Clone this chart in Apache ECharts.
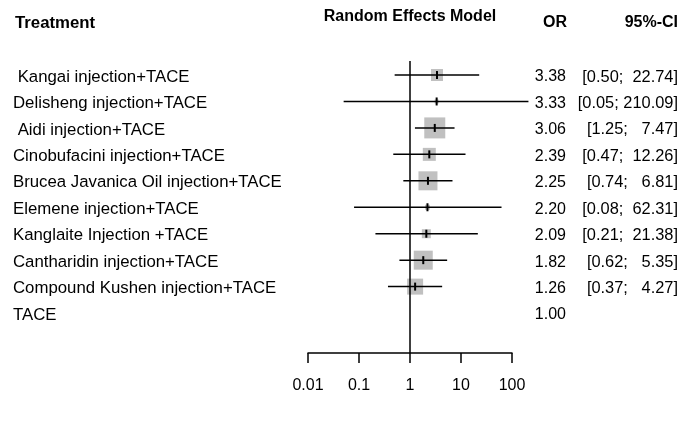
<!DOCTYPE html>
<html>
<head>
<meta charset="utf-8">
<script src="https://cdn.jsdelivr.net/npm/echarts@6/dist/echarts.min.js"></script>
<style>
  html, body { margin: 0; padding: 0; background: #fff; }
  #chart { width: 700px; height: 427px; }
</style>
</head>
<body>
<div id="chart"></div>
<script>
// ---- data ----
const treatments = [
  ' Kangai injection+TACE',
  'Delisheng injection+TACE',
  ' Aidi injection+TACE',
  'Cinobufacini injection+TACE',
  'Brucea Javanica Oil injection+TACE',
  'Elemene injection+TACE',
  'Kanglaite Injection +TACE',
  'Cantharidin injection+TACE',
  'Compound Kushen injection+TACE',
  'TACE'
];
const orValues = [3.38, 3.33, 3.06, 2.39, 2.25, 2.20, 2.09, 1.82, 1.26, 1.00];
const ciLower  = [0.50, 0.05, 1.25, 0.47, 0.74, 0.08, 0.21, 0.62, 0.37, null];
const ciUpper  = [22.74, 210.09, 7.47, 12.26, 6.81, 62.31, 21.38, 5.35, 4.27, null];
// relative study weights
const weights  = [12, 4, 21, 13, 19, 5, 9, 19, 16, 0];
const xTicks = [0.01, 0.1, 1, 10, 100];
const xTickLabels = ['0.01', '0.1', '1', '10', '100'];
const headers = { treatment: 'Treatment', model: 'Random Effects Model', or: 'OR', ci: '95%-CI' };

// ---- formatted text ----
const orText = orValues.map(v => v.toFixed(2));
const ciText = ciLower.map((lo, i) => {
  if (lo == null) return '';
  const up = ciUpper[i].toFixed(2);
  return '[' + lo.toFixed(2) + ';' + ' '.repeat(7 - up.length) + up + ']';
});

const FONT = '"Liberation Sans", Arial, sans-serif';
const chart = echarts.init(document.getElementById('chart'), null, { renderer: 'canvas' });

const forestData = orValues.map((v, i) => [i, ciLower[i], ciUpper[i], v, weights[i]]);
const textData = treatments.map((t, i) => [i, t, orText[i], ciText[i]]);

const option = {
  animation: false,
  backgroundColor: '#ffffff',
  grid: { left: 308, right: 188, top: 61, bottom: 74, containLabel: false },
  xAxis: {
    type: 'log',
    logBase: 10,
    min: xTicks[0],
    max: xTicks[xTicks.length - 1],
    position: 'bottom',
    axisLine: { show: true, onZero: false, lineStyle: { color: '#000', width: 1.5 } },
    axisTick: { show: true, length: 10, lineStyle: { color: '#000', width: 1.5 } },
    splitLine: { show: false },
    minorTick: { show: false },
    axisLabel: {
      margin: 25,
      color: '#000',
      fontFamily: FONT,
      fontSize: 16,
      formatter: function (val) {
        for (let k = 0; k < xTicks.length; k++) {
          if (Math.abs(Math.log10(val) - Math.log10(xTicks[k])) < 1e-6) return xTickLabels[k];
        }
        return '';
      }
    }
  },
  yAxis: {
    type: 'value',
    inverse: true,
    min: -0.53,
    max: 10.51,
    show: false,
    splitLine: { show: false }
  },
  graphic: [
    { type: 'text', x: 15, y: 23, style: { text: headers.treatment, font: 'bold 16.8px ' + FONT, fill: '#000', align: 'left', verticalAlign: 'middle' } },
    { type: 'text', x: 410, y: 17, style: { text: headers.model, font: 'bold 16px ' + FONT, fill: '#000', align: 'center', verticalAlign: 'middle' } },
    { type: 'text', x: 567, y: 23, style: { text: headers.or, font: 'bold 16px ' + FONT, fill: '#000', align: 'right', verticalAlign: 'middle' } },
    { type: 'text', x: 678, y: 23, style: { text: headers.ci, font: 'bold 16px ' + FONT, fill: '#000', align: 'right', verticalAlign: 'middle' } }
  ],
  series: [
    {
      type: 'custom',
      clip: false,
      silent: true,
      data: forestData,
      encode: { x: [1, 2, 3], y: 0 },
      renderItem: function (params, api) {
        const row = api.value(0);
        const lo = api.value(1);
        const up = api.value(2);
        const est = api.value(3);
        const w = api.value(4);
        if (lo == null || isNaN(lo) || !lo) return { type: 'group', children: [] };
        const pLo = api.coord([lo, row]);
        const pUp = api.coord([up, row]);
        const pEst = api.coord([est, row]);
        const children = [];
        if (w > 0) {
          children.push({
            type: 'rect',
            shape: { x: pEst[0] - w / 2, y: pEst[1] - w / 2, width: w, height: w },
            style: { fill: '#c0c0c0', stroke: null }
          });
        }
        children.push({
          type: 'line',
          shape: { x1: pLo[0], y1: pLo[1], x2: pUp[0], y2: pUp[1] },
          style: { stroke: '#000', lineWidth: 1.5 }
        });
        children.push({
          type: 'line',
          shape: { x1: pEst[0], y1: pEst[1] - 4, x2: pEst[0], y2: pEst[1] + 4 },
          style: { stroke: '#000', lineWidth: 2 }
        });
        return { type: 'group', children: children };
      },
      markLine: {
        silent: true,
        symbol: ['none', 'none'],
        label: { show: false },
        lineStyle: { color: '#000', width: 1.5, type: 'solid' },
        data: [{ xAxis: 1 }]
      },
      z: 3
    },
    {
      type: 'custom',
      clip: false,
      silent: true,
      data: textData,
      encode: { y: 0 },
      renderItem: function (params, api) {
        const row = api.value(0);
        const idx = params.dataIndex;
        const y = api.coord([1, row])[1] + 2;
        return {
          type: 'group',
          children: [
            { type: 'text', style: { x: 13, y: y, text: treatments[idx], font: '16.8px ' + FONT, fill: '#000', align: 'left', verticalAlign: 'middle' } },
            { type: 'text', style: { x: 566, y: y, text: orText[idx], font: '16px ' + FONT, fill: '#000', align: 'right', verticalAlign: 'middle' } },
            { type: 'text', style: { x: 678, y: y, text: ciText[idx], font: '16.4px ' + FONT, fill: '#000', align: 'right', verticalAlign: 'middle' } }
          ]
        };
      },
      z: 4
    }
  ]
};
chart.setOption(option);
</script>
</body>
</html>
